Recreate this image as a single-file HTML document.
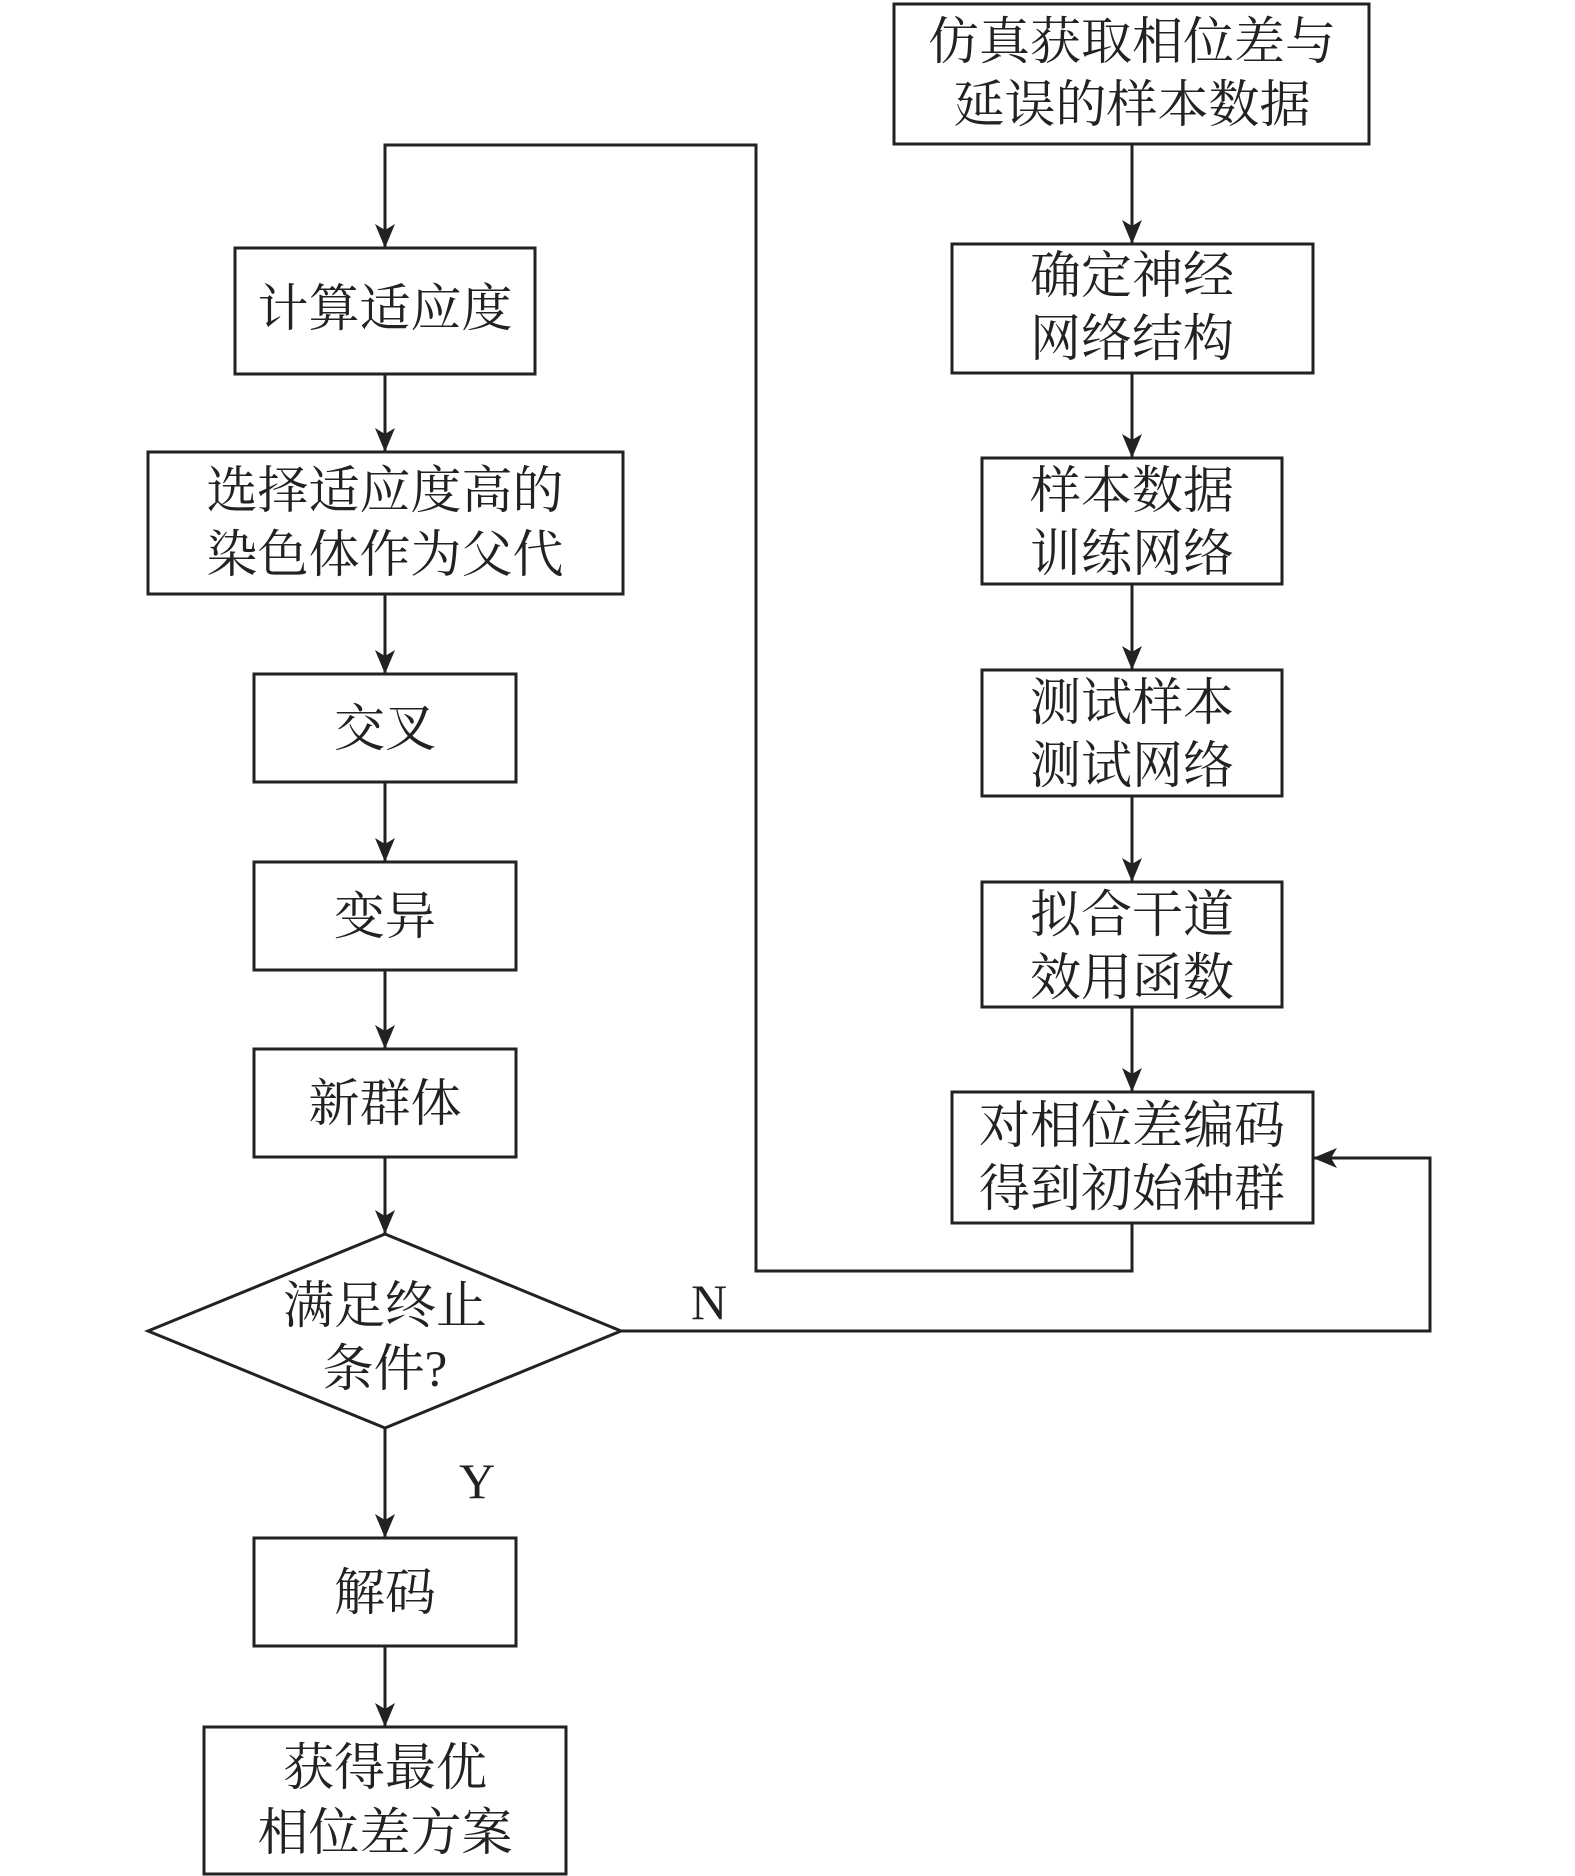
<!DOCTYPE html>
<html><head><meta charset="utf-8"><style>
html,body{margin:0;padding:0;background:#fff;}
svg{display:block;}
text{font-family:"Liberation Serif","Noto Serif CJK SC",serif;fill:#222;font-size:51px;text-anchor:middle;}
.l{font-family:"Liberation Serif",serif;font-size:50px;}
</style></head><body>
<svg width="1575" height="1876" viewBox="0 0 1575 1876" xmlns="http://www.w3.org/2000/svg">
<defs>
<marker id="a" markerWidth="26" markerHeight="26" refX="24" refY="10" orient="auto" markerUnits="userSpaceOnUse">
<path d="M0,0 L24,10 L0,20 L6,10 Z" fill="#222"/>
</marker>
</defs>
<g fill="none" stroke="#222" stroke-width="3">
<!-- left boxes -->
<rect x="235" y="248" width="300" height="126"/>
<rect x="148" y="452" width="475" height="142"/>
<rect x="254" y="674" width="262" height="108"/>
<rect x="254" y="862" width="262" height="108"/>
<rect x="254" y="1049" width="262" height="108"/>
<polygon points="148,1331 385,1234 621,1331 385,1428"/>
<rect x="254" y="1538" width="262" height="108"/>
<rect x="204" y="1727" width="362" height="147"/>
<!-- right boxes -->
<rect x="894" y="4" width="475" height="140"/>
<rect x="952" y="244" width="361" height="129"/>
<rect x="982" y="458" width="300" height="126"/>
<rect x="982" y="670" width="300" height="126"/>
<rect x="982" y="882" width="300" height="125"/>
<rect x="952" y="1092" width="361" height="131"/>
<!-- left arrows -->
<line x1="385" y1="374" x2="385" y2="452" marker-end="url(#a)"/>
<line x1="385" y1="594" x2="385" y2="674" marker-end="url(#a)"/>
<line x1="385" y1="782" x2="385" y2="862" marker-end="url(#a)"/>
<line x1="385" y1="970" x2="385" y2="1049" marker-end="url(#a)"/>
<line x1="385" y1="1157" x2="385" y2="1234" marker-end="url(#a)"/>
<line x1="385" y1="1428" x2="385" y2="1538" marker-end="url(#a)"/>
<line x1="385" y1="1646" x2="385" y2="1727" marker-end="url(#a)"/>
<!-- right arrows -->
<line x1="1132" y1="144" x2="1132" y2="244" marker-end="url(#a)"/>
<line x1="1132" y1="373" x2="1132" y2="458" marker-end="url(#a)"/>
<line x1="1132" y1="584" x2="1132" y2="670" marker-end="url(#a)"/>
<line x1="1132" y1="796" x2="1132" y2="882" marker-end="url(#a)"/>
<line x1="1132" y1="1007" x2="1132" y2="1092" marker-end="url(#a)"/>
<!-- loop -->
<polyline points="1132,1223 1132,1271 756,1271 756,145 385,145 385,248" marker-end="url(#a)"/>
<!-- N loop -->
<polyline points="621,1331 1430,1331 1430,1158 1313,1158" marker-end="url(#a)"/>
</g>
<text x="385" y="326">计算适应度</text>
<text x="385" y="508">选择适应度高的</text>
<text x="385" y="572">染色体作为父代</text>
<text x="385" y="746">交叉</text>
<text x="385" y="934">变异</text>
<text x="385" y="1121">新群体</text>
<text x="385" y="1323">满足终止</text>
<text x="385" y="1386">条件?</text>
<text x="385" y="1610">解码</text>
<text x="385" y="1785">获得最优</text>
<text x="385" y="1850">相位差方案</text>
<text x="1132" y="59">仿真获取相位差与</text>
<text x="1132" y="122">延误的样本数据</text>
<text x="1132" y="293">确定神经</text>
<text x="1132" y="356">网络结构</text>
<text x="1132" y="508">样本数据</text>
<text x="1132" y="571">训练网络</text>
<text x="1132" y="720">测试样本</text>
<text x="1132" y="783">测试网络</text>
<text x="1132" y="932">拟合干道</text>
<text x="1132" y="995">效用函数</text>
<text x="1132" y="1143">对相位差编码</text>
<text x="1132" y="1206">得到初始种群</text>
<text class="l" x="709" y="1319">N</text>
<text class="l" x="477" y="1498">Y</text>
</svg>
</body></html>
